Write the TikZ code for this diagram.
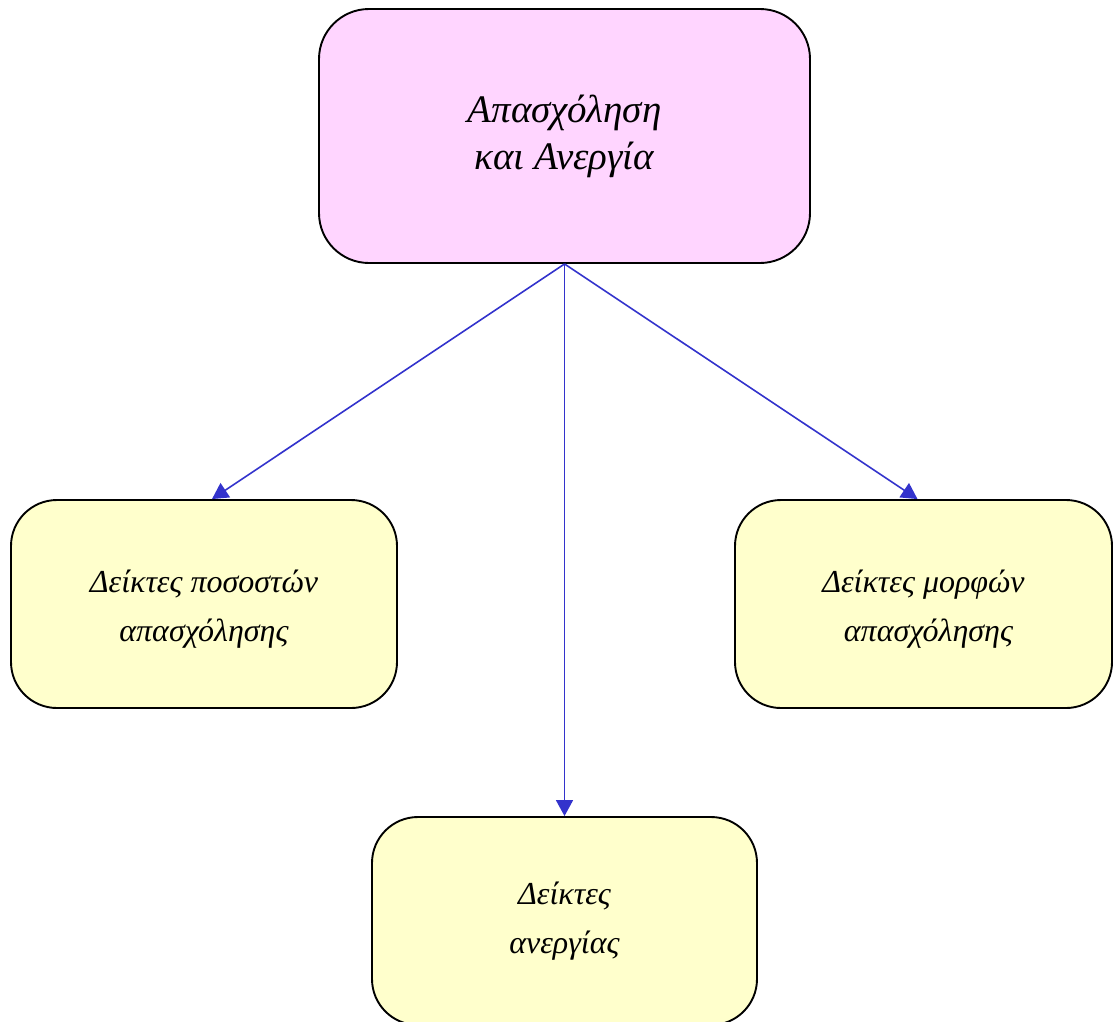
\documentclass[tikz,border=0pt]{standalone}
\usepackage{fontspec}
\setmainfont{Liberation Serif}
\usetikzlibrary{arrows.meta}
\definecolor{pinkfill}{HTML}{FFD5FF}
\definecolor{yelfill}{HTML}{FFFFCC}
\definecolor{arrowblue}{HTML}{3333CC}
\tikzset{
  box/.style={draw=black, line width=1.9pt, rounded corners=46pt, align=center,
    font=\itshape\fontsize{32}{49}\selectfont, inner sep=0pt},
  topbox/.style={box, fill=pinkfill, rounded corners=50pt, font=\itshape\fontsize{39}{47}\selectfont,
    minimum width=491pt, minimum height=254pt},
  subbox/.style={box, fill=yelfill, minimum height=208pt},
  conn/.style={draw=arrowblue, line width=1.6pt, -{Triangle[width=17pt,length=16pt]}}
}
\begin{document}
\begin{tikzpicture}[x=1pt,y=-1pt]
\useasboundingbox (0,0) rectangle (1113,1021);
\node[topbox] (top) at (564.5,136) {Απασχόληση\\και Ανεργία};
\node[subbox, minimum width=386pt] (l) at (204,604) {\rule{0pt}{33pt}Δείκτες ποσοστών\\απασχόλησης};
\node[subbox, minimum width=377pt] (r) at (923.5,604) {\rule{0pt}{33pt}Δείκτες μορφών\\\hspace*{10pt}απασχόλησης};
\node[subbox, minimum width=385pt] (b) at (564.5,921) {Δείκτες\\ανεργίας};
\draw[conn] (top.south) -- ([xshift=8pt]l.north);
\draw[conn] (top.south) -- (b.north);
\draw[conn] (top.south) -- ([xshift=-6pt]r.north);
\end{tikzpicture}
\end{document}
